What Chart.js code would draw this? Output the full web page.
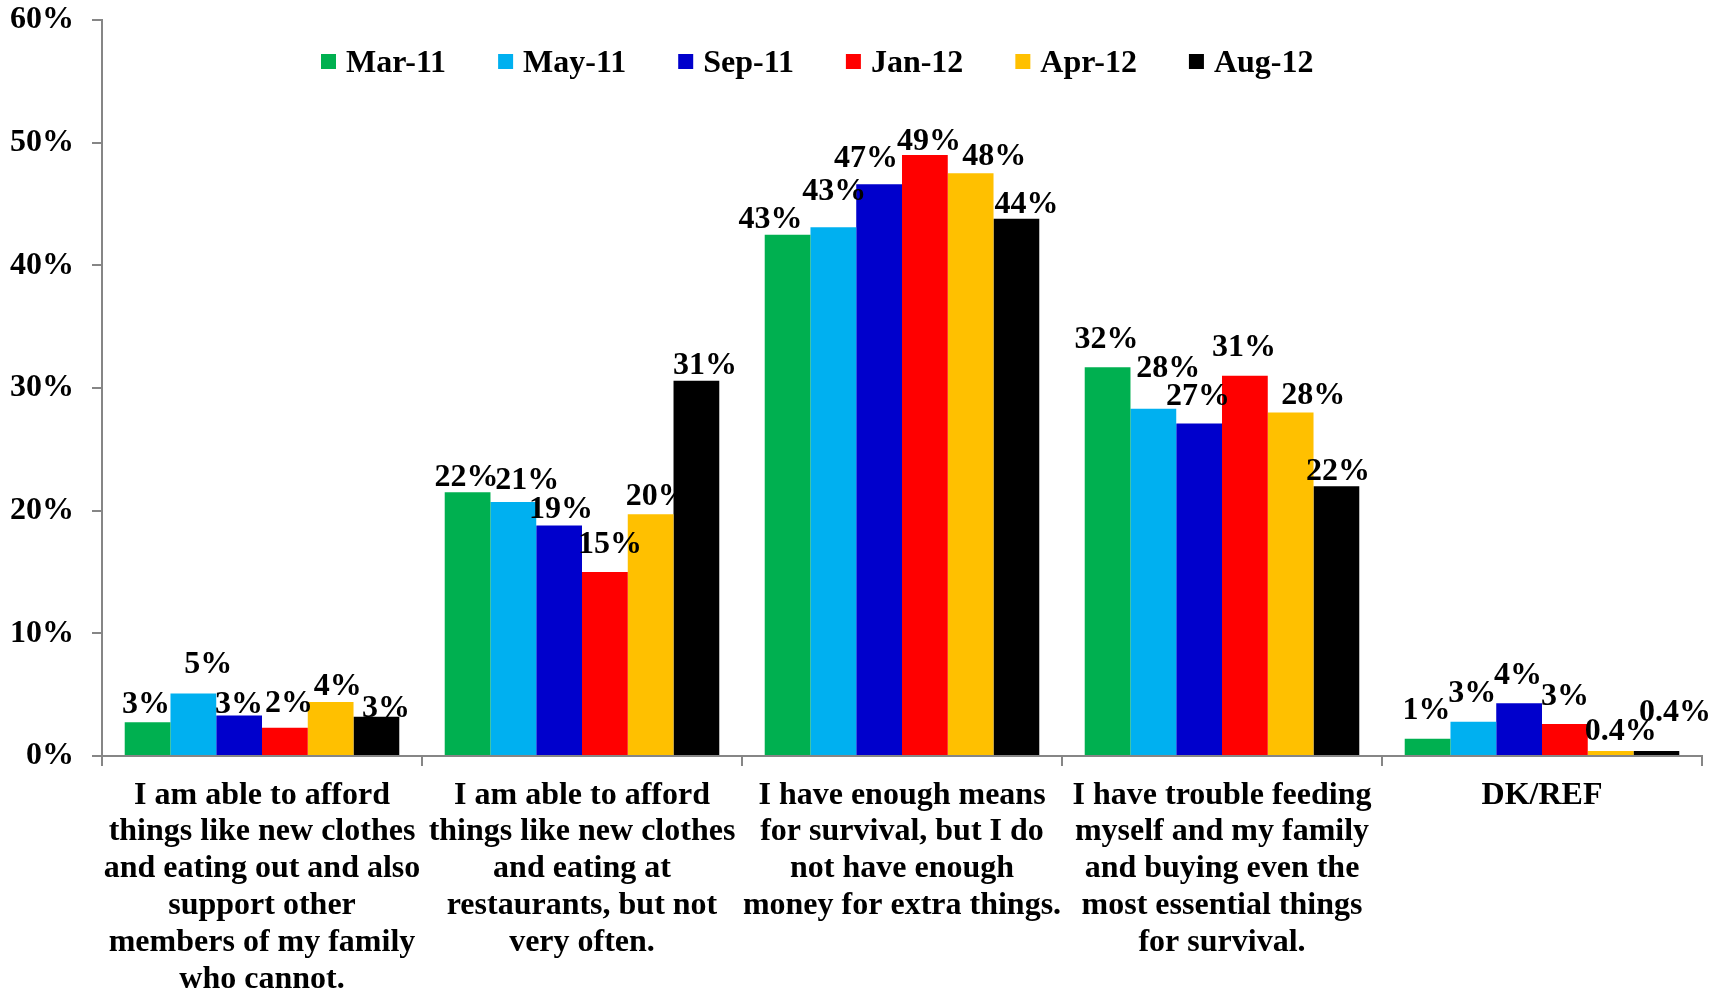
<!DOCTYPE html>
<html>
<head>
<meta charset="utf-8">
<script src="https://cdn.jsdelivr.net/npm/chart.js@4/dist/chart.umd.min.js"></script>
<style>
  html, body { margin: 0; padding: 0; background: #ffffff; }
  #wrap { width: 1725px; height: 991px; position: relative; }
</style>
</head>
<body>
<div id="wrap"><canvas id="c"></canvas></div>
<script>
const categories = [
  ["I am able to afford", "things like new clothes", "and eating out and also", "support other", "members of my family", "who cannot."],
  ["I am able to afford", "things like new clothes", "and eating at", "restaurants, but not", "very often."],
  ["I have enough means", "for survival, but I do", "not have enough", "money for extra things."],
  ["I have trouble feeding", "myself and my family", "and buying even the", "most essential things", "for survival."],
  ["DK/REF"]
];
const seriesNames = ["Mar-11", "May-11", "Sep-11", "Jan-12", "Apr-12", "Aug-12"];
const mar11 = [2.75, 21.5, 42.5, 31.7, 1.4];
const may11 = [5.1, 20.7, 43.1, 28.3, 2.8];
const sep11 = [3.3, 18.8, 46.6, 27.1, 4.3];
const jan12 = [2.3, 15.0, 49.0, 31.0, 2.6];
const apr12 = [4.4, 19.7, 47.5, 28.0, 0.4];
const aug12 = [3.2, 30.6, 43.8, 22.0, 0.4];
const yTicks = [0, 10, 20, 30, 40, 50, 60];

const colors = ["#00B050", "#00B0F0", "#0000CC", "#FF0000", "#FFC000", "#000000"];
const seriesValues = [mar11, may11, sep11, jan12, apr12, aug12];

// label placement tweaks [dx, gap above bar] per series, per category
const labelNudges = [
  [[-1.5, 9], [-1, 6], [-17, 6.5], [-1, 19], [-1, 19.7]],
  [[15, 20], [14, 13], [1, 27], [15, 32], [-1, 19.3]],
  [[0, 3], [2, 7], [-13, 17], [-1, 18.7], [-1, 19]],
  [[4, 16], [5, 19], [4, 5.4], [-1, 20], [0, 19]],
  [[7, 7], [7, 9], [23.5, 8], [22.6, 8.7], [10, 11]],
  [[9.5, 0], [8.5, 6.7], [10, 5.7], [1.6, 5.7], [18.5, 29.6]]
];

const FONT = "'Liberation Serif', 'Times New Roman', serif";
const AXIS = "#868686";

function fmt(v) {
  return v < 1 ? v.toFixed(1) + "%" : Math.round(v) + "%";
}

const dataLabelPlugin = {
  id: "dataLabels",
  afterDatasetsDraw(chart) {
    const ctx = chart.ctx;
    ctx.save();
    ctx.font = "bold 32px " + FONT;
    ctx.fillStyle = "#000000";
    ctx.textAlign = "center";
    ctx.textBaseline = "alphabetic";
    chart.data.datasets.forEach((ds, di) => {
      const meta = chart.getDatasetMeta(di);
      meta.data.forEach((bar, i) => {
        const n = labelNudges[di][i];
        ctx.fillText(fmt(ds.data[i]), bar.x + n[0], bar.y - n[1]);
      });
    });
    ctx.restore();
  }
};

const legendPlugin = {
  id: "customLegend",
  afterDraw(chart) {
    const ctx = chart.ctx;
    ctx.save();
    ctx.font = "bold 32px " + FONT;
    ctx.textBaseline = "alphabetic";
    ctx.textAlign = "left";
    let x = 321;
    const boxTop = 54, box = 15, baseline = 72;
    chart.data.datasets.forEach((ds) => {
      ctx.fillStyle = ds.backgroundColor;
      ctx.fillRect(x, boxTop, box, box);
      ctx.fillStyle = "#000000";
      ctx.fillText(ds.label, x + box + 10, baseline);
      x += box + 10 + ctx.measureText(ds.label).width + 52;
    });
    ctx.restore();
  }
};

new Chart(document.getElementById("c"), {
  type: "bar",
  data: {
    labels: categories,
    datasets: seriesNames.map((name, i) => ({
      label: name,
      data: seriesValues[i],
      backgroundColor: colors[i],
      borderWidth: 0,
      categoryPercentage: 0.858,
      barPercentage: 1.0
    }))
  },
  options: {
    responsive: true,
    maintainAspectRatio: false,
    animation: false,
    layout: { padding: { top: 20, right: 23, left: 0, bottom: 0 } },
    plugins: {
      legend: { display: false },
      tooltip: { enabled: false }
    },
    scales: {
      x: {
        offset: true,
        grid: {
          offset: true,
          drawOnChartArea: false,
          drawTicks: true,
          tickLength: 10,
          color: AXIS,
          lineWidth: 2
        },
        border: { display: true, color: AXIS, width: 2 },
        ticks: {
          color: "#000000",
          font: { family: FONT, weight: "bold", size: 32, lineHeight: 1.15 },
          padding: 11,
          maxRotation: 0,
          minRotation: 0,
          autoSkip: false
        },
        afterFit(scale) {
          scale.height = 235;
          scale.paddingLeft = 0;
          scale.paddingRight = 0;
        }
      },
      y: {
        min: 0,
        max: 60,
        afterBuildTicks(scale) { scale.ticks = yTicks.map(v => ({ value: v })); },
        grid: {
          drawOnChartArea: false,
          drawTicks: true,
          tickLength: 10,
          color: AXIS,
          lineWidth: 2
        },
        border: { display: true, color: AXIS, width: 2 },
        ticks: {
          color: "#000000",
          font: { family: FONT, weight: "bold", size: 32 },
          padding: 18,
          callback: (v) => v + "%"
        },
        afterFit(scale) {
          scale.width = 102;
          scale.paddingTop = 0;
          scale.paddingBottom = 0;
        }
      }
    }
  },
  plugins: [dataLabelPlugin, legendPlugin]
});
</script>
</body>
</html>
